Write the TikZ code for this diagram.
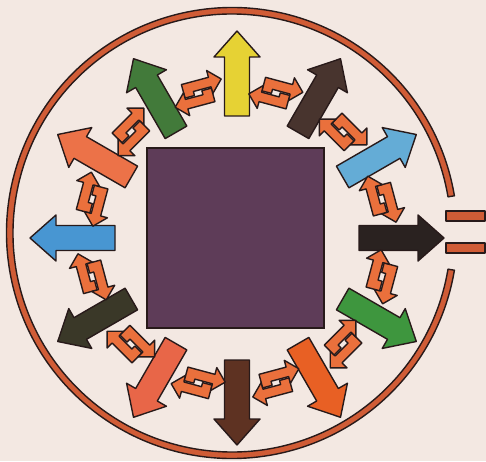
\documentclass[tikz,border=0pt]{standalone}
\usepackage{tikz}
\definecolor{bg}{RGB}{243,232,226}
\definecolor{inkc}{RGB}{40,26,26}
\definecolor{ringc}{RGB}{208,92,54}
\definecolor{sqc}{RGB}{94,60,88}
\definecolor{pairc}{RGB}{234,112,60}
\definecolor{cyel}{RGB}{230,210,52}
\definecolor{cdbr}{RGB}{72,52,46}
\definecolor{clbl}{RGB}{100,172,214}
\definecolor{cblk}{RGB}{42,34,32}
\definecolor{cgrn}{RGB}{62,150,62}
\definecolor{cora}{RGB}{232,96,36}
\definecolor{cbrn}{RGB}{94,50,34}
\definecolor{csal}{RGB}{232,102,72}
\definecolor{coli}{RGB}{58,56,40}
\definecolor{cblu}{RGB}{72,150,210}
\definecolor{cor2}{RGB}{236,114,72}
\definecolor{cgr2}{RGB}{66,122,58}
\tikzset{
  inkline/.style={draw=inkc, line width=1.4pt, line join=round},
}
\begin{document}
\begin{tikzpicture}[x=1pt,y=1pt]
\useasboundingbox (0,0) rectangle (486,461);
\fill[bg] (0,0) rectangle (486,461);
% ring with gap on the right
\begin{scope}[shift={(232,228)}]
\filldraw[inkline, fill=ringc] (9.5:225.5) arc[start angle=9.5,end angle=350.5,radius=225.5]
  -- (350.5:219) arc[start angle=350.5,end angle=9.5,radius=219] -- cycle;
\end{scope}
% exit bars
\filldraw[inkline, fill=ringc] (446,240) rectangle (485,250);
\filldraw[inkline, fill=ringc] (446,208) rectangle (485,218);
% central square
\filldraw[draw=inkc, line width=1.4pt, fill=sqc] (147,133) rectangle (324,313);
% big arrows
\foreach \a/\c in {90/cyel,60/cdbr,30/clbl,0/cblk,-30/cgrn,-60/cora,-90/cbrn,-120/csal,-150/coli,180/cblu,150/cor2,120/cgr2}{
  \begin{scope}[shift={(237,223)}, rotate=\a]
    \filldraw[inkline, fill=\c] (122,-12.5) -- (181,-12.5) -- (181,-23) -- (207,0)
      -- (181,23) -- (181,12.5) -- (122,12.5) -- cycle;
  \end{scope}
}
% small pairs of opposite arrows
\foreach \a in {15,45,...,345}{
  \begin{scope}[shift={(237,223)}, rotate=\a, shift={(150,0)}, rotate=-90, scale=1.4]
    \filldraw[inkline, fill=pairc] (-10,-1) -- (-3,-1) -- (-3,2) -- (10,2) -- (10,-3)
      -- (18.5,5.5) -- (10,14) -- (10,9) -- (-10,9) -- cycle;
    \filldraw[inkline, fill=pairc] (10,1) -- (3,1) -- (3,-2) -- (-10,-2) -- (-10,3)
      -- (-18.5,-5.5) -- (-10,-14) -- (-10,-9) -- (10,-9) -- cycle;
  \end{scope}
}
\end{tikzpicture}
\end{document}
